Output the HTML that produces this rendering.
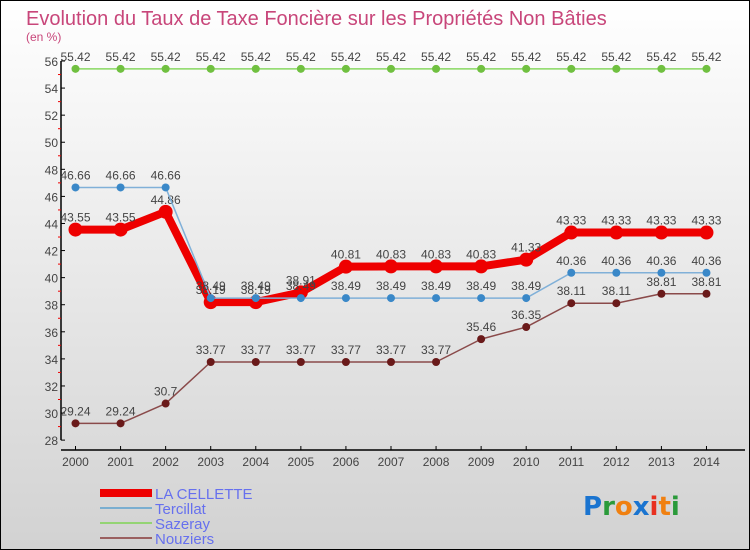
<!DOCTYPE html>
<html><head><meta charset="utf-8"><style>
body{margin:0;width:750px;height:550px;overflow:hidden}
svg{display:block;font-family:"Liberation Sans",sans-serif}
</style></head><body>
<svg id="c" width="750" height="550">
<defs><linearGradient id="bg" x1="0" y1="0" x2="0" y2="1"><stop offset="0" stop-color="#ffffff"/><stop offset="1" stop-color="#d2d2d2"/></linearGradient></defs>
<rect x="0.5" y="0.5" width="749" height="549" fill="url(#bg)" stroke="#000"/>
<text x="26" y="25" font-size="20" fill="#c8467a">Evolution du Taux de Taxe Foncière sur les Propriétés Non Bâties</text>
<text x="26" y="41" font-size="12" fill="#c8467a">(en %)</text>
<g id="axes"></g><g id="series"></g>
<g>
<rect x="100" y="489" width="52" height="8" fill="#ee0000"/>
<text x="155" y="499" font-size="15" fill="#6670ee">LA CELLETTE</text>
<rect x="100" y="507" width="52" height="2" fill="#7aaed0"/>
<text x="155" y="514" font-size="15" fill="#6670ee">Tercillat</text>
<rect x="100" y="522" width="52" height="2" fill="#94d474"/>
<text x="155" y="529" font-size="15" fill="#6670ee">Sazeray</text>
<rect x="100" y="537" width="52" height="2" fill="#9a6060"/>
<text x="155" y="544" font-size="15" fill="#6670ee">Nouziers</text>
</g>
<text x="583" y="515" font-size="26" font-weight="bold" font-family="'DejaVu Sans',sans-serif"><tspan fill="#1a74d0">P</tspan><tspan fill="#2a9a3a">r</tspan><tspan fill="#f08010">o</tspan><tspan fill="#1a74d0">x</tspan><tspan fill="#e83020">i</tspan><tspan fill="#f08010">t</tspan><tspan fill="#2a9a3a">i</tspan></text>
</svg>
<script>
const years=[2000,2001,2002,2003,2004,2005,2006,2007,2008,2009,2010,2011,2012,2013,2014];
const laCellette=[43.55,43.55,44.86,38.19,38.19,38.91,40.81,40.83,40.83,40.83,41.33,43.33,43.33,43.33,43.33];
const tercillat=[46.66,46.66,46.66,38.49,38.49,38.49,38.49,38.49,38.49,38.49,38.49,40.36,40.36,40.36,40.36];
const sazeray=[55.42,55.42,55.42,55.42,55.42,55.42,55.42,55.42,55.42,55.42,55.42,55.42,55.42,55.42,55.42];
const nouziers=[29.24,29.24,30.7,33.77,33.77,33.77,33.77,33.77,33.77,35.46,36.35,38.11,38.11,38.81,38.81];
const yTicks=[28,30,32,34,36,38,40,42,44,46,48,50,52,54,56];
const NS="http://www.w3.org/2000/svg";
const x=i=>75.5+i*45.07;
const y=v=>61+(56-v)*13.54;
function mk(t,a,p){const e=document.createElementNS(NS,t);for(const k in a)e.setAttribute(k,a[k]);p.appendChild(e);return e;}
const ax=document.getElementById('axes');
let e=mk('line',{x1:61,y1:y(56),x2:61,y2:y(28),stroke:'#000','stroke-width':1.5},ax);


e=mk('line',{x1:61,y1:450,x2:745,y2:450,stroke:'#000','stroke-width':1.5},ax);


yTicks.forEach(v=>{
 mk('line',{x1:61,y1:y(v),x2:65,y2:y(v),stroke:'#000'},ax);
 if(v<56)mk('line',{x1:58,y1:y(v+1),x2:61,y2:y(v+1),stroke:'#e00'},ax);
 const t=mk('text',{x:58,y:y(v)+5,'text-anchor':'end','font-size':12,fill:'#444'},ax);
 t.textContent=v;
 
 
});
years.forEach((yr,i)=>{
 mk('line',{x1:x(i),y1:446,x2:x(i),y2:450,stroke:'#000'},ax);
 const t=mk('text',{x:x(i),y:466,'text-anchor':'middle','font-size':12,fill:'#444'},ax);
 t.textContent=yr;
 
 
});
const sg=document.getElementById('series');
function draw(vals,color,w,r,dot,name){
 const g=mk('g',{},sg);
 
 
 mk('polyline',{points:vals.map((v,i)=>x(i)+','+y(v)).join(' '),fill:'none',stroke:color,'stroke-width':w,'stroke-linejoin':'round'},g);
 vals.forEach((v,i)=>{
  const c=mk('circle',{cx:x(i),cy:y(v),r:r,fill:dot},g);
  
  
  const t=mk('text',{x:x(i),y:y(v)-8,'text-anchor':'middle','font-size':12,fill:'#444'},g);
  t.textContent=v;
  
  
 });
}
draw(nouziers,'#8a4a4a',1.5,4,'#6a1a1a','nouziers');
draw(sazeray,'#88d860',1.5,4,'#70c040','sazeray');
draw(laCellette,'#ee0000',8,7,'#ee0000','la-cellette');
draw(tercillat,'#80b0d8',1.5,4,'#3a88c8','tercillat');
</script>
</body></html>
